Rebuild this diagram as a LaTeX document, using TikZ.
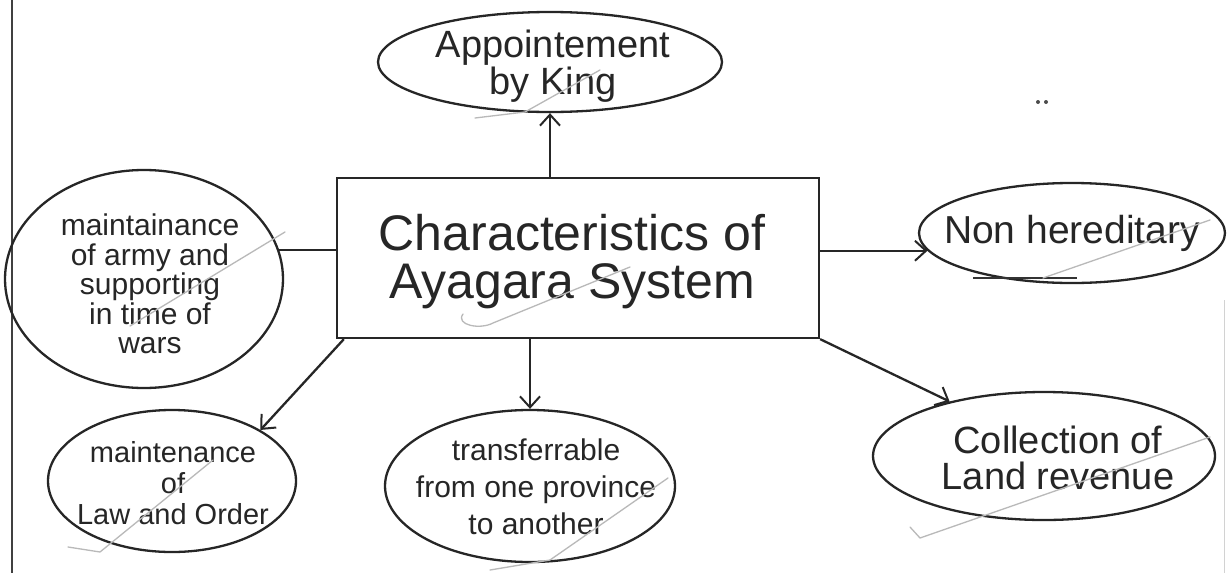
\documentclass[tikz,border=0pt]{standalone}
\usepackage{fontspec}
\setmainfont{Liberation Sans}
\usetikzlibrary{shapes.geometric,arrows.meta}
\begin{document}
\begin{tikzpicture}[x=1pt,y=-1pt,
  ink/.style={line width=2.3pt, draw=black!85},
  bubble/.style={ink, ellipse, inner sep=0pt},
  words/.style={align=center, inner sep=0pt, text=black!85},
  link/.style={ink, -{Straight Barb[length=11pt,width=20pt,line width=2pt]}},
  tick/.style={draw=gray!55, line width=1.3pt, line cap=round, line join=round}]
\useasboundingbox (0,0) rectangle (1228,573);
\fill[white] (0,0) rectangle (1228,573);

% page margin rules
\draw[black!75, line width=1.6pt] (12,0) -- (12,573);
\draw[gray!35, line width=1pt] (1224,300) -- (1224,573);

% central box
\node[ink, rectangle, minimum width=482pt, minimum height=160pt] (box) at (578,258) {};
\node[words, font=\fontsize{50}{48}\selectfont] (boxtxt) at (572,262) {Characteristics of\\Ayagara System};

% surrounding bubbles
\node[bubble, minimum width=344pt, minimum height=100pt] (king) at (550,62) {};
\node[words, font=\fontsize{38}{32}\selectfont] (kingtxt) at (553,66) {Appointement\\by King};

\node[bubble, minimum width=278pt, minimum height=218pt] (blob) at (144,279) {};
\node[words, font=\fontsize{30}{29.5}\selectfont] (blobtxt) at (150,284) {maintainance\\of army and\\supporting\\in time of\\wars};

\node[bubble, minimum width=306pt, minimum height=100pt] (nh) at (1072,233) {};
\node[words, font=\fontsize{39}{40}\selectfont] (nhtxt) at (1072,233) {Non hereditary};

\node[bubble, minimum width=248pt, minimum height=142pt] (lo) at (172,481) {};
\node[words, font=\fontsize{29}{31}\selectfont] (lotxt) at (173,483) {maintenance\\of\\Law and Order};

\node[bubble, minimum width=290pt, minimum height=152pt] (mid) at (530,486) {};
\node[words, font=\fontsize{30}{37}\selectfont] (midtxt) at (536,487) {transferrable\\from one province\\to another};

\node[bubble, minimum width=342pt, minimum height=128pt] (cr) at (1044,456) {};
\node[words, font=\fontsize{38}{36}\selectfont] (crtxt) at (1058,458) {Collection of\\Land revenue};

% connectors
\draw[link] (box.north -| king.south) -- (king.south);
\draw[ink] (box.west |- blob.12) -- (blob.12);
\draw[link] (box.east |- nh.187) -- (nh.187);
\draw[link] ([xshift=8pt]box.south west) -- (lo.30);
\draw[link] (box.south -| mid.north) -- (mid.north);
\draw[link] (box.south east) -- (cr.150);

% grader's check marks
\draw[tick] (475,118) -- (525,112) -- (600,70);
\draw[tick] (130,326) -- (285,232);
\draw[tick] (463,314) .. controls (455,325) and (480,330) .. (493,323) -- (630,267);
\draw[black!80, line width=2.6pt] (973,278) -- (1077,278);
\draw[tick] (1043,278) -- (1210,220);
\draw[tick] (68,547) -- (100,552) -- (213,460);
\draw[tick] (490,570) -- (550,560) -- (668,478);
\draw[tick] (910,527) -- (920,538) -- (1210,437);

% stray dots
\fill[black!70] (1038,102) circle (2pt);
\fill[black!70] (1046,102) circle (2pt);
\end{tikzpicture}
\end{document}
